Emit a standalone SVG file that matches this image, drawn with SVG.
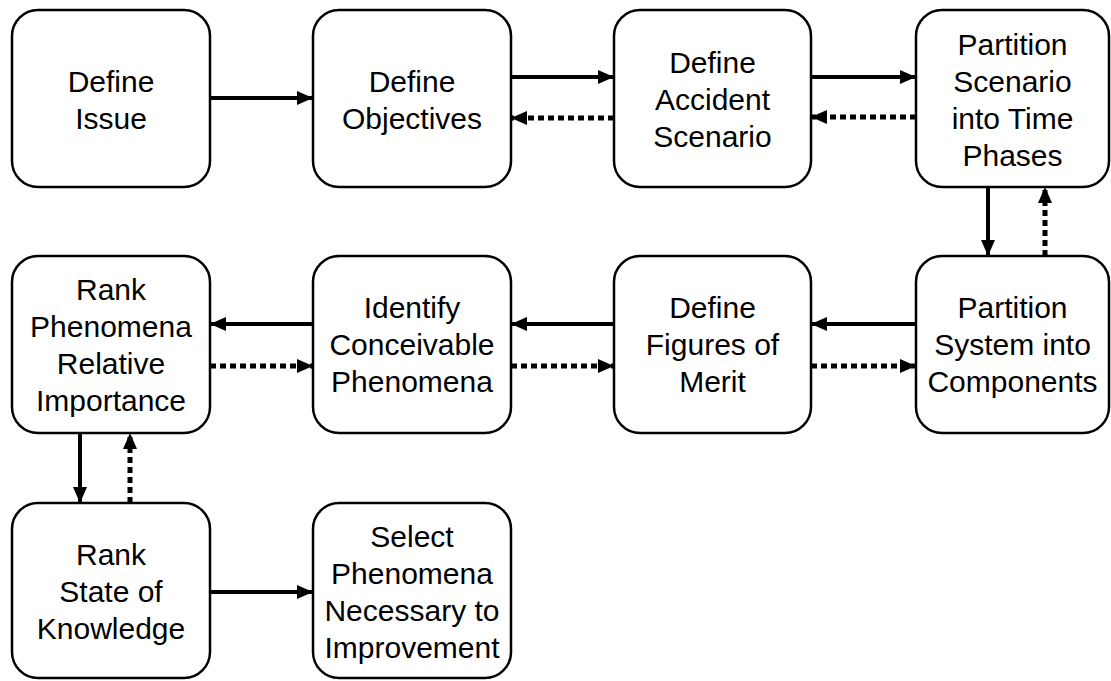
<svg xmlns="http://www.w3.org/2000/svg" width="1111" height="681" viewBox="0 0 1111 681">
<style>
.box{fill:#fff;stroke:#000;stroke-width:2.5}
.t{font-family:"Liberation Sans",Arial,sans-serif;font-size:30px;fill:#000;text-anchor:middle}
.s{stroke:#000;stroke-width:4;fill:none}
.d{stroke:#000;stroke-width:5;fill:none;stroke-dasharray:6 4}
</style>
<defs>
<marker id="ah" viewBox="0 0 16 14" refX="16" refY="7" markerWidth="16" markerHeight="14" markerUnits="userSpaceOnUse" orient="auto">
<path d="M0,0 L16,7 L0,14 Z" fill="#000"/>
</marker>
</defs>
<rect width="1111" height="681" fill="#fff"/>
<g id="n1"><rect class="box" x="12" y="10" width="198" height="177" rx="26"/>
<text class="t" x="111" y="92">Define</text><text class="t" x="111" y="129">Issue</text></g>
<g id="n2"><rect class="box" x="313" y="10" width="198" height="177" rx="26"/>
<text class="t" x="412" y="92">Define</text><text class="t" x="412" y="129">Objectives</text></g>
<g id="n3"><rect class="box" x="614" y="10" width="197" height="177" rx="26"/>
<text class="t" x="712.5" y="73">Define</text><text class="t" x="712.5" y="110">Accident</text><text class="t" x="712.5" y="147">Scenario</text></g>
<g id="n4"><rect class="box" x="916" y="10" width="193" height="177" rx="26"/>
<text class="t" x="1012.5" y="55">Partition</text><text class="t" x="1012.5" y="92">Scenario</text><text class="t" x="1012.5" y="129">into Time</text><text class="t" x="1012.5" y="166">Phases</text></g>
<g id="n5"><rect class="box" x="916" y="256" width="193" height="177" rx="26"/>
<text class="t" x="1012.5" y="318">Partition</text><text class="t" x="1012.5" y="355">System into</text><text class="t" x="1012.5" y="392">Components</text></g>
<g id="n6"><rect class="box" x="614" y="256" width="197" height="177" rx="26"/>
<text class="t" x="712.5" y="318">Define</text><text class="t" x="712.5" y="355">Figures of</text><text class="t" x="712.5" y="392">Merit</text></g>
<g id="n7"><rect class="box" x="313" y="256" width="198" height="177" rx="26"/>
<text class="t" x="412" y="318">Identify</text><text class="t" x="412" y="355">Conceivable</text><text class="t" x="412" y="392">Phenomena</text></g>
<g id="n8"><rect class="box" x="12" y="256" width="198" height="177" rx="26"/>
<text class="t" x="111" y="300">Rank</text><text class="t" x="111" y="337">Phenomena</text><text class="t" x="111" y="374">Relative</text><text class="t" x="111" y="411">Importance</text></g>
<g id="n9"><rect class="box" x="12" y="503" width="198" height="175" rx="26"/>
<text class="t" x="111" y="565">Rank</text><text class="t" x="111" y="602">State of</text><text class="t" x="111" y="639">Knowledge</text></g>
<g id="n10"><rect class="box" x="313" y="503" width="198" height="175" rx="26"/>
<text class="t" x="412" y="547">Select</text><text class="t" x="412" y="584">Phenomena</text><text class="t" x="412" y="621">Necessary to</text><text class="t" x="412" y="658">Improvement</text></g>
<g id="connectors">
<line class="s" x1="210" y1="98" x2="313" y2="98" marker-end="url(#ah)"/>
<line class="s" x1="511" y1="77" x2="614" y2="77" marker-end="url(#ah)"/>
<line class="d" x1="614" y1="118" x2="511" y2="118" marker-end="url(#ah)"/>
<line class="s" x1="811" y1="77" x2="916" y2="77" marker-end="url(#ah)"/>
<line class="d" x1="916" y1="117" x2="811" y2="117" marker-end="url(#ah)"/>
<line class="s" x1="988" y1="187" x2="988" y2="256" marker-end="url(#ah)"/>
<line class="d" x1="1045" y1="256" x2="1045" y2="187" marker-end="url(#ah)"/>
<line class="s" x1="916" y1="324" x2="811" y2="324" marker-end="url(#ah)"/>
<line class="d" x1="811" y1="366" x2="916" y2="366" marker-end="url(#ah)"/>
<line class="s" x1="614" y1="324" x2="511" y2="324" marker-end="url(#ah)"/>
<line class="d" x1="511" y1="366" x2="614" y2="366" marker-end="url(#ah)"/>
<line class="s" x1="313" y1="324" x2="210" y2="324" marker-end="url(#ah)"/>
<line class="d" x1="210" y1="366" x2="313" y2="366" marker-end="url(#ah)"/>
<line class="s" x1="80" y1="433" x2="80" y2="503" marker-end="url(#ah)"/>
<line class="d" x1="130" y1="503" x2="130" y2="433" marker-end="url(#ah)"/>
<line class="s" x1="210" y1="592" x2="313" y2="592" marker-end="url(#ah)"/>
</g>
</svg>
